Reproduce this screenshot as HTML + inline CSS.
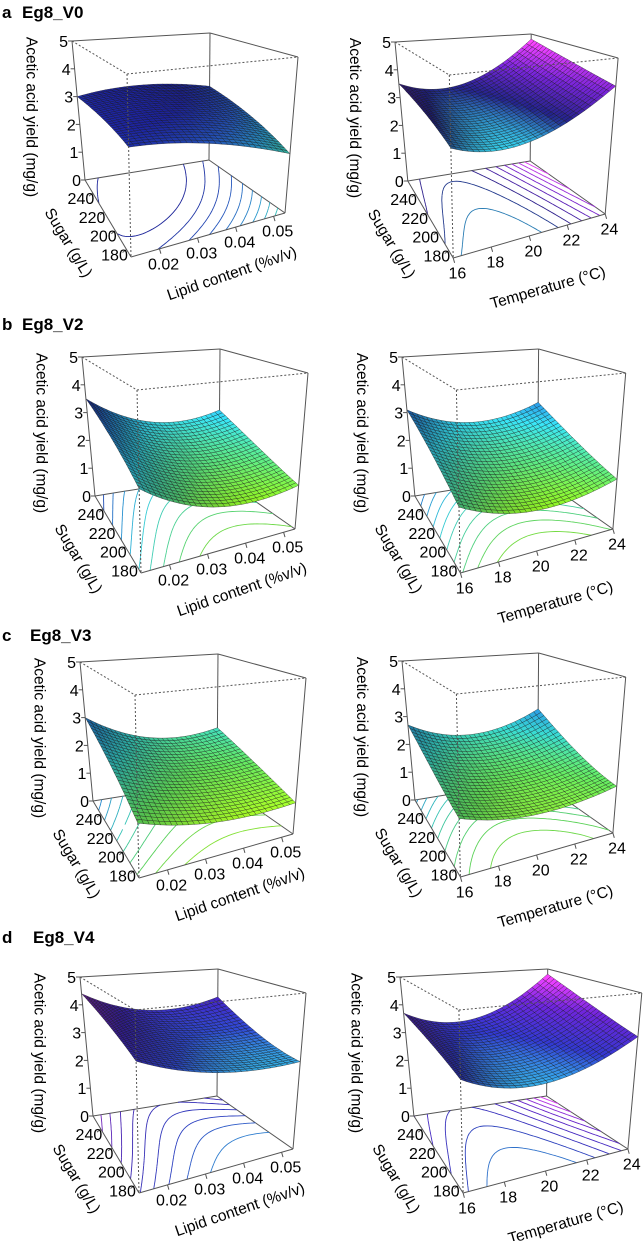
<!DOCTYPE html>
<html><head><meta charset="utf-8"><style>
html,body{margin:0;padding:0;background:#fff;}
svg{display:block;}
text{font-family:"Liberation Sans",Arial,sans-serif;fill:#000;}
.hd{font-weight:bold;font-size:17px;}
.tk{font-size:16px;}
.ti{font-size:15.5px;}
</style></head>
<body>
<svg id="fig" width="643" height="1241" viewBox="0 0 643 1241" xmlns="http://www.w3.org/2000/svg">
<rect width="643" height="1241" fill="#fff"/>
<text class="hd" x="2" y="18">a</text>
<text class="hd" x="22" y="18">Eg8_V0</text>
<text class="hd" x="2" y="330">b</text>
<text class="hd" x="22" y="330">Eg8_V2</text>
<text class="hd" x="2" y="641">c</text>
<text class="hd" x="30" y="641">Eg8_V3</text>
<text class="hd" x="2" y="943">d</text>
<text class="hd" x="33" y="943">Eg8_V4</text>
</svg>
<script>
// Surface values: rows = sugar (front 180 -> back 240+), cols = x-axis (low, mid, high)
const zV0lipid = [[3.0,2.7,1.9],[3.1,3.1,2.5],[3.0,3.2,2.9]];
const zV0temp  = [[3.0,2.8,4.1],[3.3,3.0,4.4],[3.5,3.3,4.8]];
const zV2lipid = [[2.3,1.3,1.4],[2.9,1.8,1.9],[3.5,2.4,2.6]];
const zV2temp  = [[1.8,1.2,1.6],[2.4,1.7,2.1],[3.1,2.4,2.9]];
const zV3lipid = [[1.5,1.0,1.0],[2.2,1.5,1.5],[3.0,2.0,2.1]];
const zV3temp  = [[1.6,1.2,1.5],[2.0,1.5,1.9],[2.7,2.1,2.8]];
const zV4lipid = [[3.6,2.9,2.8],[4.0,3.2,3.1],[4.4,3.6,3.9]];
const zV4temp  = [[3.1,2.6,3.6],[3.4,2.9,4.1],[3.7,3.3,4.8]];
const zTicks = [0,1,2,3,4,5];
const sugarTicks = [180,200,220,240];
const lipidTicks = [0.02,0.03,0.04,0.05];
const lipidLabels = ["0.02","0.03","0.04","0.05"];
const tempTicks = [16,18,20,22,24];
const tempLabels = ["16","18","20","22","24"];

const SUG=[172,254], LIP=[0.0125,0.053], TMP=[16,24];
const NS="http://www.w3.org/2000/svg";
const svg=document.getElementById('fig');
const C={Fb:[131,257],Rb:[285,213],Lb:[85,180],Bb:[209,160],Ft:[127,74],Rt:[298,57],Lt:[72,41],Bt:[210,33]};
const pal={
 A1:[[1.9,'#38c4a8'],[2.3,'#2a92c4'],[2.7,'#2452b4'],[3.1,'#1a2090']],
 A2:[[2.7,'#30b8d0'],[3.2,'#1e1e78'],[3.9,'#6a20c0'],[4.8,'#f040f0']],
 B:[[1.1,'#88d810'],[1.7,'#50c870'],[2.4,'#30c0d0'],[3.0,'#2070c0'],[3.6,'#1a1890']],
 C:[[0.9,'#98e020'],[1.5,'#58c850'],[2.2,'#30b8b0'],[3.0,'#2070c8']],
 D1:[[2.7,'#30a8d0'],[3.2,'#2a40b8'],[3.8,'#3820a8'],[4.5,'#8a2ab8']],
 D2:[[2.5,'#30a8d0'],[3.1,'#2a30b0'],[3.9,'#6020c0'],[4.8,'#f040f0']]
};
const panels=[
 {id:'a-left',g:zV0lipid,ox:0,oy:0,sx:1,p:pal.A1,xa:'lipid'},
 {id:'a-right',g:zV0temp,ox:323,oy:1,sx:0.987,p:pal.A2,xa:'temp'},
 {id:'b-left',g:zV2lipid,ox:10,oy:316,sx:1,p:pal.B,xa:'lipid'},
 {id:'b-right',g:zV2temp,ox:330,oy:316,sx:0.99,p:pal.B,xa:'temp'},
 {id:'c-left',g:zV3lipid,ox:8,oy:621,sx:1,p:pal.C,xa:'lipid'},
 {id:'c-right',g:zV3temp,ox:330,oy:620,sx:0.99,p:pal.C,xa:'temp'},
 {id:'d-left',g:zV4lipid,ox:8,oy:936,sx:1,p:pal.D1,xa:'lipid'},
 {id:'d-right',g:zV4temp,ox:328,oy:936,sx:1.07,p:pal.D2,xa:'temp'}
];
function lag(t){return [2*(t-.5)*(t-1),-4*t*(t-1),2*t*(t-.5)];}
function zf(g,u,v){const a=lag(v),b=lag(u);let s=0;for(let i=0;i<3;i++)for(let j=0;j<3;j++)s+=g[i][j]*a[i]*b[j];return s;}
function hex(h){return [parseInt(h.substr(1,2),16),parseInt(h.substr(3,2),16),parseInt(h.substr(5,2),16)];}
function col(p,z,f){
 let c;
 if(z<=p[0][0])c=hex(p[0][1]);else if(z>=p[p.length-1][0])c=hex(p[p.length-1][1]);
 else{for(let i=0;i<p.length-1;i++){if(z>=p[i][0]&&z<=p[i+1][0]){const t=(z-p[i][0])/(p[i+1][0]-p[i][0]);const a=hex(p[i][1]),b=hex(p[i+1][1]);c=a.map((x,k)=>x+(b[k]-x)*t);break;}}}
 f=f||1;
 return 'rgb('+c.map(x=>Math.max(0,Math.min(255,Math.round(x*f)))).join(',')+')';
}
function mk(tag,attrs,parent){const e=document.createElementNS(NS,tag);for(const k in attrs)e.setAttribute(k,attrs[k]);(parent||svg).appendChild(e);return e;}

panels.forEach(P=>{
 const grp=mk('g',{});
 
 
 const T=pt=>[P.ox+72+(pt[0]-72)*P.sx,P.oy+pt[1]];
 const K={};for(const k in C)K[k]=T(C[k]);
 const bil=(F,R,L,B,u,v)=>[0,1].map(i=>F[i]*(1-u)*(1-v)+R[i]*u*(1-v)+L[i]*(1-u)*v+B[i]*u*v);
 const proj=(u,v,z)=>{const b=bil(K.Fb,K.Rb,K.Lb,K.Bb,u,v),t=bil(K.Ft,K.Rt,K.Lt,K.Bt,u,v);const s=z/5;return [b[0]+(t[0]-b[0])*s,b[1]+(t[1]-b[1])*s];};
 const line=(a,b,dash,name)=>{const e=mk('line',{x1:a[0].toFixed(1),y1:a[1].toFixed(1),x2:b[0].toFixed(1),y2:b[1].toFixed(1),stroke:'#555','stroke-width':1},grp);if(dash)e.setAttribute('stroke-dasharray','2,2');
  
  };
 line(K.Bt,K.Bb,false,'box-edge');line(K.Lt,K.Bt,false,'box-edge');line(K.Bt,K.Rt,false,'box-edge');
 line(K.Lb,K.Bb,false,'box-edge');line(K.Bb,K.Rb,false,'box-edge');
 let zmin=1e9,zmax=-1e9;const N=40,G=[];
 for(let i=0;i<=N;i++){G.push([]);for(let j=0;j<=N;j++){const z=zf(P.g,j/N,i/N);G[i].push(z);zmin=Math.min(zmin,z);zmax=Math.max(zmax,z);}}
 const cg=mk('g',{fill:'none','stroke-width':0.9},grp);
 
 
 const nl=10;
 for(let l=1;l<nl;l++){
  const lev=zmin+(zmax-zmin)*l/nl;let d='';
  for(let i=0;i<N;i++)for(let j=0;j<N;j++){
   const c=[[j,i,G[i][j]],[j+1,i,G[i][j+1]],[j+1,i+1,G[i+1][j+1]],[j,i+1,G[i+1][j]]];
   const pts=[];
   for(let k=0;k<4;k++){const a=c[k],b=c[(k+1)%4];if((a[2]-lev)*(b[2]-lev)<0){const t=(lev-a[2])/(b[2]-a[2]);pts.push([(a[0]+(b[0]-a[0])*t)/N,(a[1]+(b[1]-a[1])*t)/N]);}}
   for(let k=0;k+1<pts.length;k+=2){const p1=proj(pts[k][0],pts[k][1],0),p2=proj(pts[k+1][0],pts[k+1][1],0);d+='M'+p1[0].toFixed(1)+' '+p1[1].toFixed(1)+'L'+p2[0].toFixed(1)+' '+p2[1].toFixed(1);}
  }
  const pe=mk('path',{d:d,stroke:col(P.p,lev,1.05)},cg);
  
  
 }
 const M=28,facets=[];
 for(let i=0;i<M;i++)for(let j=0;j<M;j++){
  const u0=j/M,u1=(j+1)/M,v0=i/M,v1=(i+1)/M;
  const z00=zf(P.g,u0,v0),z10=zf(P.g,u1,v0),z11=zf(P.g,u1,v1),z01=zf(P.g,u0,v1);
  const zc=(z00+z10+z11+z01)/4;
  const dzu=((z10+z11)-(z00+z01))/2*M/3,dzv=((z01+z11)-(z00+z10))/2*M/3;
  let n=[-dzu,-dzv,1];const nn=Math.hypot(n[0],n[1],n[2]);n=n.map(x=>x/nn);
  const L=[-0.45,-0.35,0.82];const dot=n[0]*L[0]+n[1]*L[1]+n[2]*L[2];
  const f=Math.max(0.82,Math.min(1.25,0.55+0.65*dot));
  facets.push({k:u0+v0,pts:[proj(u0,v0,z00),proj(u1,v0,z10),proj(u1,v1,z11),proj(u0,v1,z01)],c:col(P.p,zc,f)});
 }
 facets.sort((a,b)=>b.k-a.k);
 const sg=mk('g',{stroke:'#111','stroke-width':0.45,'stroke-opacity':0.7},grp);
 
 
 facets.forEach(F=>{const e=mk('polygon',{points:F.pts.map(p=>p[0].toFixed(1)+','+p[1].toFixed(1)).join(' '),fill:F.c},sg);
  
  });
 line(K.Lb,K.Lt,false,'box-edge');line(K.Rt,K.Rb,false,'box-edge');line(K.Lb,K.Fb,false,'sugar-axis-line');line(K.Fb,K.Rb,false,'x-axis-line');
 line(K.Lt,K.Ft,true,'box-edge-dashed');line(K.Ft,K.Rt,true,'box-edge-dashed');line(K.Ft,K.Fb,true,'box-edge-dashed');
 zTicks.forEach(z=>{const p=proj(0,1,z);
  line(p,[p[0]-4,p[1]],false,'z-tick');
  const t=mk('text',{x:(p[0]-4).toFixed(1),y:(p[1]+6).toFixed(1),'text-anchor':'end',class:'tk'},grp);t.textContent=z;
  
  });
 sugarTicks.forEach(s=>{const v=(s-SUG[0])/(SUG[1]-SUG[0]);const p=proj(0,v,0);
  line(p,[p[0]-4,p[1]+3],false,'sugar-tick');
  const t=mk('text',{x:(p[0]-12).toFixed(1),y:(p[1]+11).toFixed(1),'text-anchor':'middle',class:'tk'},grp);t.textContent=s;
  
  });
 const e2=[K.Rb[0]-K.Fb[0],K.Rb[1]-K.Fb[1]],l2=Math.hypot(e2[0],e2[1]);let o2=[-e2[1]/l2,e2[0]/l2];if(o2[1]<0)o2=[-o2[0],-o2[1]];
 const vals=P.xa==='lipid'?lipidTicks:tempTicks, labs=P.xa==='lipid'?lipidLabels:tempLabels, rng=P.xa==='lipid'?LIP:TMP;
 vals.forEach((x,i)=>{const u=(x-rng[0])/(rng[1]-rng[0]);const p=proj(u,0,0);
  line(p,[p[0]+o2[0]*5,p[1]+o2[1]*5],false,'x-tick');
  const t=mk('text',{x:(p[0]+o2[0]*15).toFixed(1),y:(p[1]+o2[1]*15+6).toFixed(1),'text-anchor':'middle',class:'tk'},grp);t.textContent=labs[i];
  
  });
 const R=(x,y)=>T([x,y]);
 let q=R(31,117);
 let t=mk('text',{x:0,y:0,transform:'translate('+q[0].toFixed(1)+','+q[1].toFixed(1)+') rotate(90)','text-anchor':'middle','dominant-baseline':'central',class:'ti'},grp);
 t.textContent='Acetic acid yield (mg/g)';
 
 
 q=R(68,243);
 t=mk('text',{x:0,y:0,transform:'translate('+q[0].toFixed(1)+','+q[1].toFixed(1)+') rotate(59)','text-anchor':'middle','dominant-baseline':'central',class:'ti'},grp);
 t.textContent='Sugar (g/L)';
 
 
 if(P.xa==='lipid'){q=R(232,274);
  t=mk('text',{x:0,y:0,transform:'translate('+q[0].toFixed(1)+','+q[1].toFixed(1)+') rotate(-19)','text-anchor':'middle','dominant-baseline':'central',class:'ti'},grp);
  t.textContent='Lipid content (%v/v)';
  
 }else{q=R(227,287);
  t=mk('text',{x:0,y:0,transform:'translate('+q[0].toFixed(1)+','+q[1].toFixed(1)+') rotate(-16)','text-anchor':'middle','dominant-baseline':'central',class:'ti'},grp);
  t.textContent='Temperature (°C)';
  
 }
 
});
</script>
</body></html>
